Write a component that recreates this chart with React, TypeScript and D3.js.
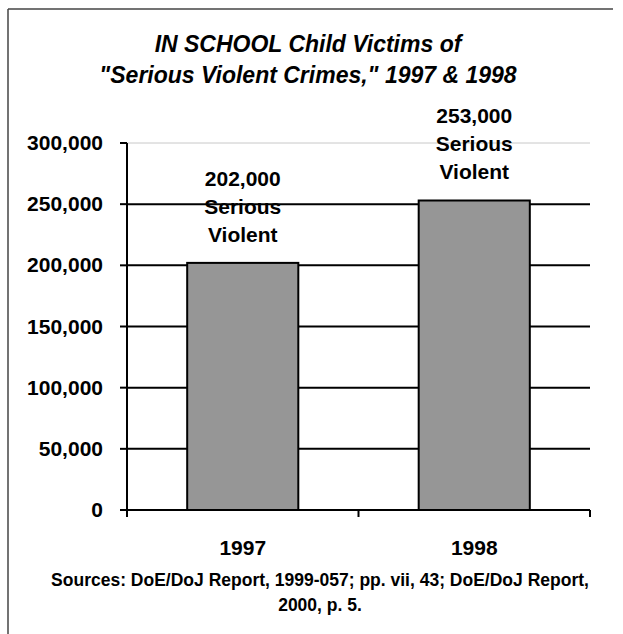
import * as d3 from "d3";

const years = ["1997", "1998"];
const victims = [202000, 253000];
const barNote = ["Serious", "Violent"];
const yTicks = [0, 50000, 100000, 150000, 200000, 250000, 300000];
const titleLines = ["IN SCHOOL Child Victims of", "\"Serious Violent Crimes,\" 1997 & 1998"];
const sourceLines = ["Sources: DoE/DoJ Report, 1999-057; pp. vii, 43; DoE/DoJ Report,", "2000, p. 5."];

const W = 623;
const H = 634;
const font = "Liberation Sans, Arial, Helvetica, sans-serif";

const App = () => {
  const left = 127;
  const right = 590;
  const top = 143;
  const bottom = 510;

  const x = d3.scaleBand().domain(years).range([left, right]).paddingInner(0.52).paddingOuter(0.26);
  const y = d3.scaleLinear().domain([0, 300000]).range([bottom, top]);
  const fmt = d3.format(",");
  const edges = [left, (left + right) / 2, right];

  return (
    <svg width={W} height={H} style={{ position: "absolute", left: 0, top: 0 }} fontFamily={font}>
      <rect width={W} height={H} fill="#fff" />
      {/* frame */}
      <line x1={8} y1={9} x2={613} y2={9} stroke="#444" strokeWidth={1.5} />
      <line x1={8} y1={9} x2={8} y2={H} stroke="#444" strokeWidth={1.5} />

      {/* title */}
      {titleLines.map((t, i) => (
        <text key={i} x={308} y={52 + i * 31} textAnchor="middle" fontSize={23} fontWeight="bold" fontStyle="italic">
          {t}
        </text>
      ))}

      {/* gridlines */}
      {yTicks.slice(1).map((v) => (
        <line
          key={v}
          x1={left}
          x2={right}
          y1={y(v)}
          y2={y(v)}
          stroke={v === 300000 ? "#c8c8c8" : "#000"}
          strokeWidth={v === 300000 ? 1 : 2}
        />
      ))}

      {/* bars */}
      {years.map((yr, i) => (
        <rect
          key={yr}
          x={x(yr)}
          y={y(victims[i])}
          width={x.bandwidth()}
          height={bottom - y(victims[i])}
          fill="#969696"
          stroke="#000"
          strokeWidth={2}
        />
      ))}

      {/* bar labels */}
      {years.map((yr, i) => {
        const cx = (x(yr) as number) + x.bandwidth() / 2;
        const lines = [fmt(victims[i]), ...barNote];
        return lines.map((t, j) => (
          <text
            key={yr + j}
            x={cx}
            y={y(victims[i]) - 21 - (lines.length - 1 - j) * 28}
            textAnchor="middle"
            fontSize={21}
            fontWeight="bold"
          >
            {t}
          </text>
        ));
      })}

      {/* y axis */}
      <line x1={left} x2={left} y1={top} y2={bottom + 7} stroke="#000" strokeWidth={2} />
      {yTicks.map((v) => (
        <g key={v}>
          <line x1={left - 7} x2={left} y1={y(v)} y2={y(v)} stroke="#000" strokeWidth={2} />
          <text x={103} y={y(v) + 7} textAnchor="end" fontSize={21} fontWeight="bold">
            {fmt(v)}
          </text>
        </g>
      ))}

      {/* x axis */}
      <line x1={left} x2={right} y1={bottom} y2={bottom} stroke="#000" strokeWidth={2} />
      {edges.map((e, i) => (
        <line key={i} x1={e} x2={e} y1={bottom} y2={bottom + 7} stroke="#000" strokeWidth={2} />
      ))}
      {years.map((yr) => (
        <text key={yr} x={(x(yr) as number) + x.bandwidth() / 2} y={555} textAnchor="middle" fontSize={21} fontWeight="bold">
          {yr}
        </text>
      ))}

      {/* sources */}
      {sourceLines.map((t, i) => (
        <text key={i} x={320} y={586} textAnchor="middle" fontSize={17.5} fontWeight="bold" dy={i * 25}>
          {t}
        </text>
      ))}
    </svg>
  );
};

export default App;
